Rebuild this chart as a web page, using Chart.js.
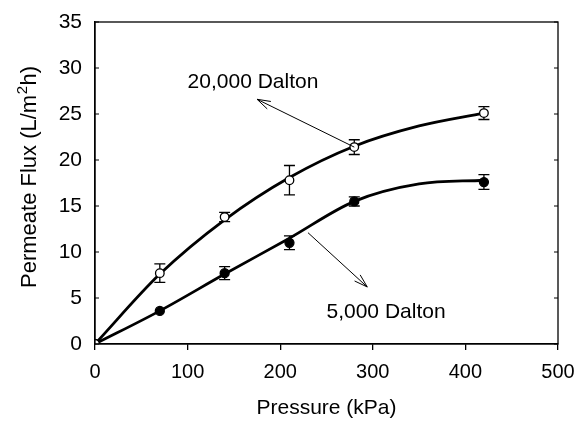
<!DOCTYPE html>
<html>
<head>
<meta charset="utf-8">
<script src="https://cdn.jsdelivr.net/npm/chart.js@4/dist/chart.umd.min.js"></script>
<style>
  html, body { margin: 0; padding: 0; background: #fff; }
  #wrap { width: 578px; height: 421px; }
</style>
</head>
<body>
<div id="wrap"><canvas id="flux"></canvas></div>
<script>
// measured permeate flux (L/m2h) against pressure (kPa)
const pressure = [0, 70, 140, 210, 280, 420];
const flux20k = [0, 7.7, 13.8, 17.8, 21.4, 25.1];
const err20k = [0, 1.0, 0.5, 1.6, 0.8, 0.7];
const flux5k = [0, 3.6, 7.7, 11.0, 15.5, 17.6];
const err5k = [0, 0, 0.7, 0.75, 0.5, 0.8];

// fitted trend curves, read at 70 kPa steps
const fitPressure = [0, 70, 140, 210, 280, 350, 420];
const fit20k = [0, 7.6, 13.5, 18.1, 21.5, 23.7, 25.1];
const fit5k = [0, 3.6, 7.6, 11.5, 15.5, 17.4, 17.8];

const xTicks = [0, 100, 200, 300, 400, 500];
const yTicks = [0, 5, 10, 15, 20, 25, 30, 35];

// labels and arrows, placed in data units
const notes = [
  { text: '20,000 Dalton', x: 100, y: 28.5, from: [280, 21.4], to: [175, 26.6] },
  { text: '5,000 Dalton', x: 250, y: 3.5, from: [230, 12.1], to: [294, 6.2] }
];

const FONT = "'Liberation Sans', Arial, sans-serif";

const toXY = (xs, ys) => xs.map((x, i) => ({ x: x, y: ys[i] }));

// vertical error bars with caps, drawn under the markers
const errorBars = {
  id: 'errorBars',
  beforeDatasetsDraw(chart) {
    const { ctx, scales: { x, y } } = chart;
    const sets = [[flux20k, err20k], [flux5k, err5k]];
    ctx.save();
    ctx.strokeStyle = '#000';
    ctx.lineWidth = 1.3;
    sets.forEach(([vals, errs]) => {
      vals.forEach((v, i) => {
        if (!errs[i]) return;
        const px = x.getPixelForValue(pressure[i]);
        const top = y.getPixelForValue(v + errs[i]);
        const bot = y.getPixelForValue(v - errs[i]);
        ctx.beginPath();
        ctx.moveTo(px, top); ctx.lineTo(px, bot);
        ctx.moveTo(px - 5.5, top); ctx.lineTo(px + 5.5, top);
        ctx.moveTo(px - 5.5, bot); ctx.lineTo(px + 5.5, bot);
        ctx.stroke();
      });
    });
    ctx.restore();
  }
};

// frame around the plot, inward y ticks, y title with a real superscript,
// and the labels with open arrowheads
const frameAndNotes = {
  id: 'frameAndNotes',
  afterDraw(chart) {
    const { ctx, chartArea: a, scales: { x, y } } = chart;
    ctx.save();
    ctx.strokeStyle = '#000';
    ctx.lineWidth = 1.3;
    ctx.strokeRect(a.left, a.top, a.right - a.left, a.bottom - a.top);

    ctx.lineWidth = 1;
    ctx.beginPath();
    yTicks.forEach(v => {
      const py = y.getPixelForValue(v);
      ctx.moveTo(a.left, py); ctx.lineTo(a.left + 4, py);
      ctx.moveTo(a.right, py); ctx.lineTo(a.right - 4, py);
    });
    ctx.stroke();

    ctx.fillStyle = '#000';

    // rotated y-axis title
    ctx.save();
    ctx.translate(36, a.bottom - 56);
    ctx.rotate(-Math.PI / 2);
    ctx.textAlign = 'left';
    ctx.textBaseline = 'alphabetic';
    ctx.font = '22px ' + FONT;
    const head = 'Permeate Flux (L/m';
    ctx.fillText(head, 0, 0);
    let cx = ctx.measureText(head).width + 0.5;
    ctx.font = '15px ' + FONT;
    ctx.fillText('2', cx, -9);
    cx += ctx.measureText('2').width + 0.5;
    ctx.font = '22px ' + FONT;
    ctx.fillText('h)', cx, 0);
    ctx.restore();

    ctx.font = '21px ' + FONT;
    ctx.textBaseline = 'middle';
    ctx.textAlign = 'left';
    notes.forEach(n => {
      ctx.fillText(n.text, x.getPixelForValue(n.x), y.getPixelForValue(n.y));
      const x0 = x.getPixelForValue(n.from[0]), y0 = y.getPixelForValue(n.from[1]);
      const x1 = x.getPixelForValue(n.to[0]), y1 = y.getPixelForValue(n.to[1]);
      const ang = Math.atan2(y1 - y0, x1 - x0);
      const len = 14, spread = 0.3;
      ctx.beginPath();
      ctx.moveTo(x0, y0); ctx.lineTo(x1, y1);
      ctx.moveTo(x1 - len * Math.cos(ang - spread), y1 - len * Math.sin(ang - spread));
      ctx.lineTo(x1, y1);
      ctx.lineTo(x1 - len * Math.cos(ang + spread), y1 - len * Math.sin(ang + spread));
      ctx.stroke();
    });
    ctx.restore();
  }
};

const marker = (fill, r) => ({
  showLine: false,
  pointRadius: r,
  pointBackgroundColor: fill,
  pointBorderColor: '#000',
  pointBorderWidth: 1.3
});

const curve = {
  borderColor: '#000',
  borderWidth: 2.8,
  pointRadius: 0,
  cubicInterpolationMode: 'monotone'
};

new Chart(document.getElementById('flux'), {
  type: 'line',
  data: {
    datasets: [
      { label: '20,000 Dalton', data: toXY(pressure, flux20k), ...marker('#fff', 4.3) },
      { label: '5,000 Dalton', data: toXY(pressure, flux5k), ...marker('#000', 4.5) },
      { label: '20,000 Dalton fit', data: toXY(fitPressure, fit20k), ...curve },
      { label: '5,000 Dalton fit', data: toXY(fitPressure, fit5k), ...curve }
    ]
  },
  options: {
    responsive: true,
    maintainAspectRatio: false,
    animation: false,
    layout: { padding: { top: 22, right: 20, left: 0, bottom: 0 } },
    plugins: {
      legend: { display: false },
      tooltip: { enabled: false }
    },
    scales: {
      x: {
        type: 'linear',
        min: 0,
        max: 500,
        afterBuildTicks: s => { s.ticks = xTicks.map(v => ({ value: v })); },
        afterFit: s => { s.height = 77; s.paddingLeft = 0; s.paddingRight = 0; },
        grid: {
          drawOnChartArea: false,
          drawTicks: true,
          tickLength: 6,
          color: '#000',
          lineWidth: 1.3
        },
        border: { display: true, color: '#000', width: 1.3 },
        ticks: {
          color: '#000',
          padding: 10,
          maxRotation: 0,
          font: { family: FONT, size: 20 }
        },
        title: {
          display: true,
          text: 'Pressure (kPa)',
          color: '#000',
          padding: { top: 0, bottom: 0 },
          font: { family: FONT, size: 21 }
        }
      },
      y: {
        type: 'linear',
        min: 0,
        max: 35,
        afterBuildTicks: s => { s.ticks = yTicks.map(v => ({ value: v })); },
        afterFit: s => { s.width = 95; s.paddingTop = 0; s.paddingBottom = 0; },
        grid: { display: false, drawTicks: false },
        border: { display: true, color: '#000', width: 1.3 },
        ticks: {
          color: '#000',
          padding: 13,
          font: { family: FONT, size: 21 }
        }
      }
    }
  },
  plugins: [errorBars, frameAndNotes]
});
</script>
</body>
</html>
